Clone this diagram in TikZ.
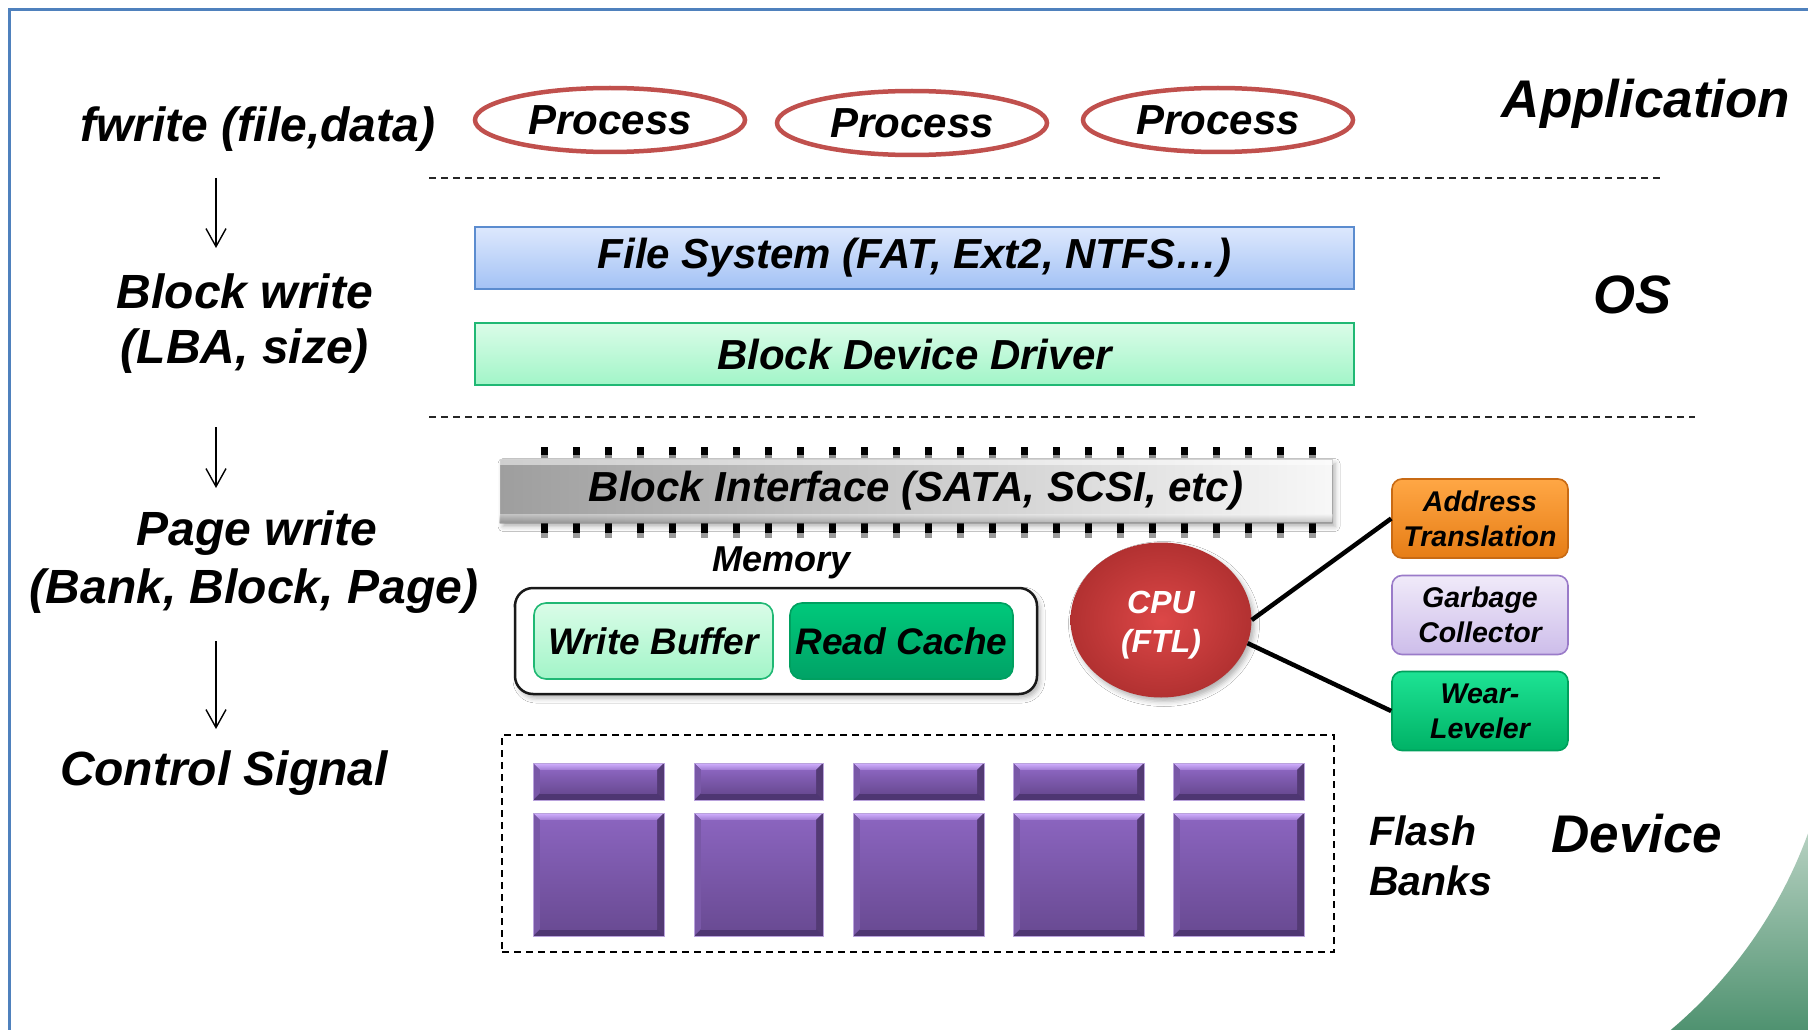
\documentclass[tikz,border=0pt]{standalone}
\usepackage{fontspec}
\setmainfont{Liberation Sans}
\usetikzlibrary{shapes.geometric,arrows.meta,shadows.blur}

\definecolor{framebl}{HTML}{4F81BD}
\definecolor{procred}{HTML}{C0504D}
\definecolor{fstop}{HTML}{DDE8FD}
\definecolor{fsbot}{HTML}{A3C2F5}
\definecolor{fsline}{HTML}{5B8CCF}
\definecolor{drvtop}{HTML}{DAFCE8}
\definecolor{drvbot}{HTML}{A2F5C8}
\definecolor{drvline}{HTML}{20B874}
\definecolor{rctop}{HTML}{00C97B}
\definecolor{rcbot}{HTML}{00A266}
\definecolor{rcline}{HTML}{00A060}
\definecolor{cpuin}{HTML}{DC4747}
\definecolor{cpuout}{HTML}{B23131}
\definecolor{attop}{HTML}{FFA745}
\definecolor{atbot}{HTML}{E67D16}
\definecolor{atline}{HTML}{C86A14}
\definecolor{gctop}{HTML}{F0EAF9}
\definecolor{gcbot}{HTML}{CDBDEA}
\definecolor{gcline}{HTML}{9A7BC9}
\definecolor{wltop}{HTML}{1DE394}
\definecolor{wlbot}{HTML}{00B266}
\definecolor{wlline}{HTML}{00A05C}
\definecolor{bankhi}{HTML}{D2B2FF}
\definecolor{banktop}{HTML}{8A64BE}
\definecolor{bankbot}{HTML}{6A4B94}
\definecolor{bankdark}{HTML}{4E3672}
\definecolor{bankedge}{HTML}{B9A2DC}
\definecolor{swtop}{HTML}{BFD6C8}
\definecolor{swbot}{HTML}{4A8F6C}

% one bevelled flash cell: x-left, y-top, x-right, y-bottom
\newcommand\bankcell[4]{%
  \fill[bankdark] (#1,#2) rectangle (#3,#4);
  \shade[top color=bankhi, bottom color=banktop!70!bankhi]
    (#1,#2) -- (#3,#2) -- (#3-7,#2+7) -- (#1+7,#2+7) -- cycle;
  \fill[banktop!88!black] (#1,#2) -- (#1+7,#2+7) -- (#1+7,#4-7) -- (#1,#4) -- cycle;
  \fill[bankbot!78!black] (#3,#2) -- (#3,#4) -- (#3-7,#4-7) -- (#3-7,#2+7) -- cycle;
  \shade[top color=banktop, bottom color=bankbot] (#1+7,#2+7) rectangle (#3-7,#4-7);
  \draw[bankedge, line width=1pt] (#1,#2) rectangle (#3,#4);
}

\tikzset{
  lbl/.style={inner sep=0pt, font=\fontsize{48}{56}\selectfont\bfseries\itshape},
  layer/.style={inner sep=0pt, font=\fontsize{53}{60}\selectfont\bfseries\itshape},
  proc/.style={ellipse, draw=procred, line width=4.5pt, minimum width=270pt,
    minimum height=64pt, inner sep=0pt, font=\fontsize{42}{48}\selectfont\bfseries\itshape},
  band/.style={rectangle, line width=2pt, minimum width=879pt, minimum height=62pt,
    inner sep=0pt, font=\fontsize{42}{48}\selectfont\bfseries\itshape},
  sep/.style={line width=1.6pt, black!85, dash pattern=on 7pt off 5pt},
  flow/.style={line width=1.4pt, -{Straight Barb[length=18pt,width=20pt,line width=1.4pt]}},
  memcell/.style={rectangle, rounded corners=12pt, line width=1.6pt, minimum height=76pt,
    inner sep=0pt, font=\fontsize{37}{44}\selectfont\bfseries\itshape},
  ftl/.style={rectangle, rounded corners=10pt, line width=1.6pt, minimum width=176pt,
    minimum height=79pt, inner sep=0pt, align=center,
    font=\fontsize{28.5}{35}\selectfont\bfseries\itshape},
  cpulbl/.style={inner sep=0pt, text=white, align=center,
    font=\fontsize{32}{39}\selectfont\bfseries\itshape},
  link/.style={line width=4.5pt, black},
  softshadow/.style={blur shadow={shadow xshift=3pt, shadow yshift=-4pt,
    shadow blur radius=5pt, shadow opacity=30}},
}

\begin{document}
\begin{tikzpicture}[x=1pt,y=-1pt]
\useasboundingbox (0,0) rectangle (1808,1030);
\clip (0,0) rectangle (1808,1030);
\fill[white] (0,0) rectangle (1808,1030);

% green swoosh in the lower right corner: everything outside a large circle
\begin{scope}[even odd rule]
  \clip (1450,700) rectangle (1820,1040) (1370,674) circle[radius=466];
  \shade[top color=swtop, bottom color=swbot] (1560,815) rectangle (1820,1040);
\end{scope}

% slide frame
\draw[framebl, line width=3pt] (9,1035) -- (9,10) -- (1815,10);

% left column: request at each level
\node[lbl, anchor=base] (fw)  at (258,142) {fwrite (file,data)};
\node[lbl, anchor=base] (bw)  at (245,308) {Block write};
\node[lbl, anchor=base] (lba) at (245,363) {(LBA, size)};
\node[lbl, anchor=base] (pw)  at (257,545) {Page write};
\node[lbl, anchor=base] (bbp) at (254,603) {(Bank, Block, Page)};
\node[lbl, anchor=base] (cs)  at (224,785) {Control Signal};

\coordinate (a1s) at (216,178); \coordinate (a1e) at (216,248);
\coordinate (a2s) at (216,427); \coordinate (a2e) at (216,488);
\coordinate (a3s) at (216,641); \coordinate (a3e) at (216,729);
\draw[flow] (a1s) -- (a1e);
\draw[flow] (a2s) -- (a2e);
\draw[flow] (a3s) -- (a3e);

% application layer
\node[proc] (p1) at (610,120) {Process};
\node[proc] (p2) at (912,123) {Process};
\node[proc] (p3) at (1218,120) {Process};
\node[layer, anchor=base] (app) at (1646,118) {Application};

\coordinate (d1l) at (429,178); \coordinate (d1r) at (1664,178);
\draw[sep] (d1l) -- (d1r);

% OS layer
\node[band, draw=fsline, top color=fstop, bottom color=fsbot] (fs) at (914.5,258)
  {File System (FAT, Ext2, NTFS…)};
\node[band, draw=drvline, top color=drvtop, bottom color=drvbot] (bdd) at (914.5,354)
  {Block Device Driver};
\node[layer, anchor=base, font=\fontsize{54}{60}\selectfont\bfseries\itshape] (os) at (1632,313) {OS};

\coordinate (d2l) at (429,417); \coordinate (d2r) at (1695,417);
\draw[sep] (d2l) -- (d2r);

% device: host interface with connector pins
\foreach \i in {0,...,24} {
  \fill[black] ({541+32*\i},447) rectangle ++(7,8);
  \fill[black!45] ({541+32*\i},455) rectangle ++(7,3);
  \fill[black] ({541+32*\i},523) rectangle ++(7,10);
  \fill[black!40] ({541+32*\i},533) rectangle ++(7,5);
}
\node[draw=black!35, line width=1pt, left color=black!38, right color=black!3,
  minimum width=832pt, minimum height=63pt, inner sep=0pt, softshadow,
  font=\fontsize{42}{48}\selectfont\bfseries\itshape] (bif) at (916,491)
  {Block Interface (SATA, SCSI, etc)};
\fill[white, opacity=0.5] (bif.north west) rectangle ([yshift=-6pt]bif.north east);
\shade[top color=black!5, bottom color=black!50, opacity=0.45]
  ([yshift=9pt]bif.south west) rectangle (bif.south east);

% memory
\node[anchor=base, inner sep=0pt, font=\fontsize{36}{42}\selectfont\bfseries\itshape]
  (memlbl) at (782,571) {Memory};
\node[draw=black!90, line width=2.5pt, fill=white, rounded corners=18pt,
  minimum width=522pt, minimum height=106pt, softshadow] (mem) at (776,641) {};
\node[memcell, draw=drvline, top color=drvtop, bottom color=drvbot, minimum width=239pt]
  (wb) at (653.5,641) {Write Buffer};
\node[memcell, draw=rcline, top color=rctop, bottom color=rcbot, minimum width=223pt]
  (rc) at (901.5,641) {Read Cache};

% controller and FTL functions
\node[ellipse, inner color=cpuin, outer color=cpuout, minimum width=181pt,
  minimum height=155pt, inner sep=0pt, softshadow] (cpu) at (1161,620) {};
\node[cpulbl] (cputxt) at ([yshift=-5pt]cpu.center) {CPU\\(FTL)};

\node[ftl, draw=atline, top color=attop, bottom color=atbot] (at) at (1480,518.5)
  {Address\\Translation};
\node[ftl, draw=gcline, top color=gctop, bottom color=gcbot] (gc) at (1480,615)
  {Garbage\\Collector};
\node[ftl, draw=wlline, top color=wltop, bottom color=wlbot] (wl) at (1480,711)
  {Wear-\\Leveler};

\draw[link] (cpu.east) -- (at.west);
\draw[link] (cpu.-15) -- (wl.west);

% flash banks
\node[draw, dash pattern=on 7pt off 5pt, line width=1.5pt, minimum width=832pt,
  minimum height=217pt, inner sep=0pt] (flash) at (918,843.5) {};
\foreach \xl/\xr in {533/664, 694/823, 853/984, 1013/1144, 1173/1304} {
  \bankcell{\xl}{763}{\xr}{800}
  \bankcell{\xl}{813}{\xr}{936}
}
\node[anchor=west, align=left, inner sep=0pt,
  font=\fontsize{41}{50}\selectfont\bfseries\itshape] (fb) at (1369,856) {Flash\\Banks};
\node[layer, anchor=base] (dev) at (1637,852) {Device};
\end{tikzpicture}
\end{document}
